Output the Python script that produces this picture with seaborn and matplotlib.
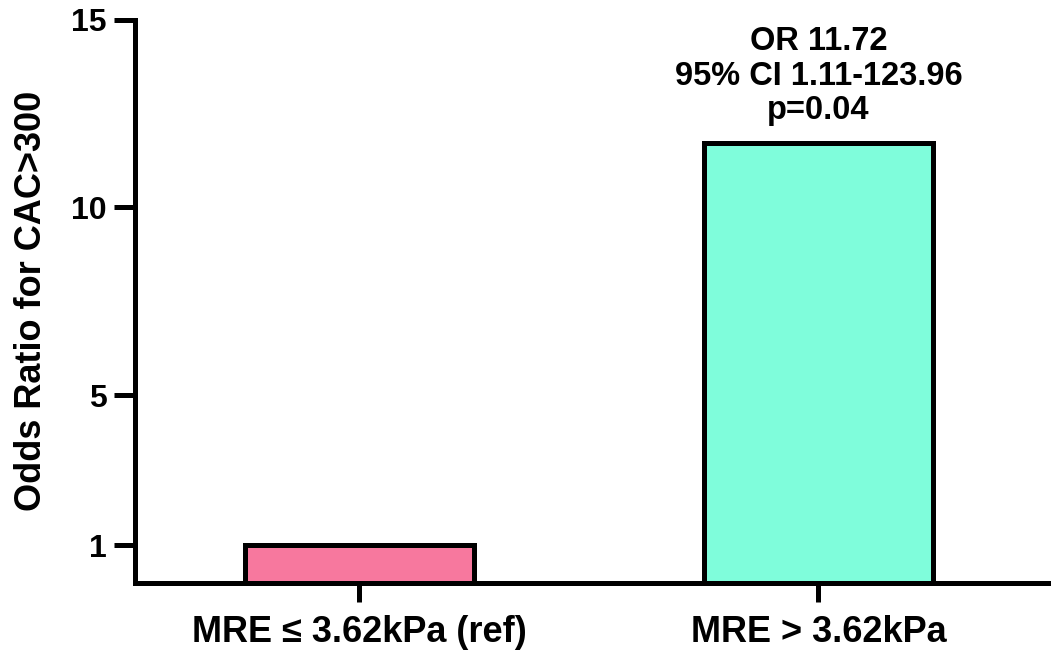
import matplotlib
matplotlib.use("Agg")
import matplotlib.pyplot as plt
import seaborn as sns
import pandas as pd

categories = ["MRE \u2264 3.62kPa (ref)", "MRE > 3.62kPa"]
odds_ratios = [1.0, 11.72]
bar_colors = ["#F7789E", "#7FFDDB"]
y_ticks = [1, 5, 10, 15]
annotation = "OR 11.72\n95% CI 1.11-123.96\np=0.04"

sns.set_theme(style="white")
plt.rcParams['font.family'] = ['Liberation Sans', 'DejaVu Sans']
plt.rcParams['font.weight'] = 'bold'
plt.rcParams['text.color'] = 'black'
plt.rcParams['axes.labelcolor'] = 'black'
plt.rcParams['xtick.color'] = 'black'
plt.rcParams['ytick.color'] = 'black'

df = pd.DataFrame({"group": categories, "OR": odds_ratios})

fig = plt.figure(figsize=(10.52, 6.55), dpi=100)
ax = fig.add_axes([0.128, 0.110, 0.868, 0.860])

sns.barplot(data=df, x="group", y="OR", hue="group", palette=bar_colors,
            legend=False, width=0.5, edgecolor="black", linewidth=3.6,
            saturation=1, ax=ax)

ax.set_ylim(0, 15)
ax.set_xlim(-0.49, 1.50)
ax.set_yticks(y_ticks)
ax.set_yticklabels([str(t) for t in y_ticks], fontsize=23, fontweight='bold')
ax.set_xticks(range(len(categories)))
ax.set_xticklabels(categories, fontsize=26, fontweight='bold')
ax.set_xlabel("")
ax.set_ylabel("Odds Ratio for CAC>300", fontsize=26, fontweight='bold', labelpad=16)

sns.despine(ax=ax)
for s in ["left", "bottom"]:
    ax.spines[s].set_linewidth(3.6)
    ax.spines[s].set_color("black")
ax.tick_params(axis="y", length=15, width=3.6, color="black", pad=5, left=True)
ax.tick_params(axis="x", length=14, width=3.6, color="black", pad=9, bottom=True)

ax.annotate(annotation, xy=(1, odds_ratios[1]), xytext=(0, 12),
            textcoords="offset points", ha="center", va="bottom",
            fontsize=23.5, fontweight='bold', linespacing=1.15)

fig.savefig("out.png", dpi=100)
